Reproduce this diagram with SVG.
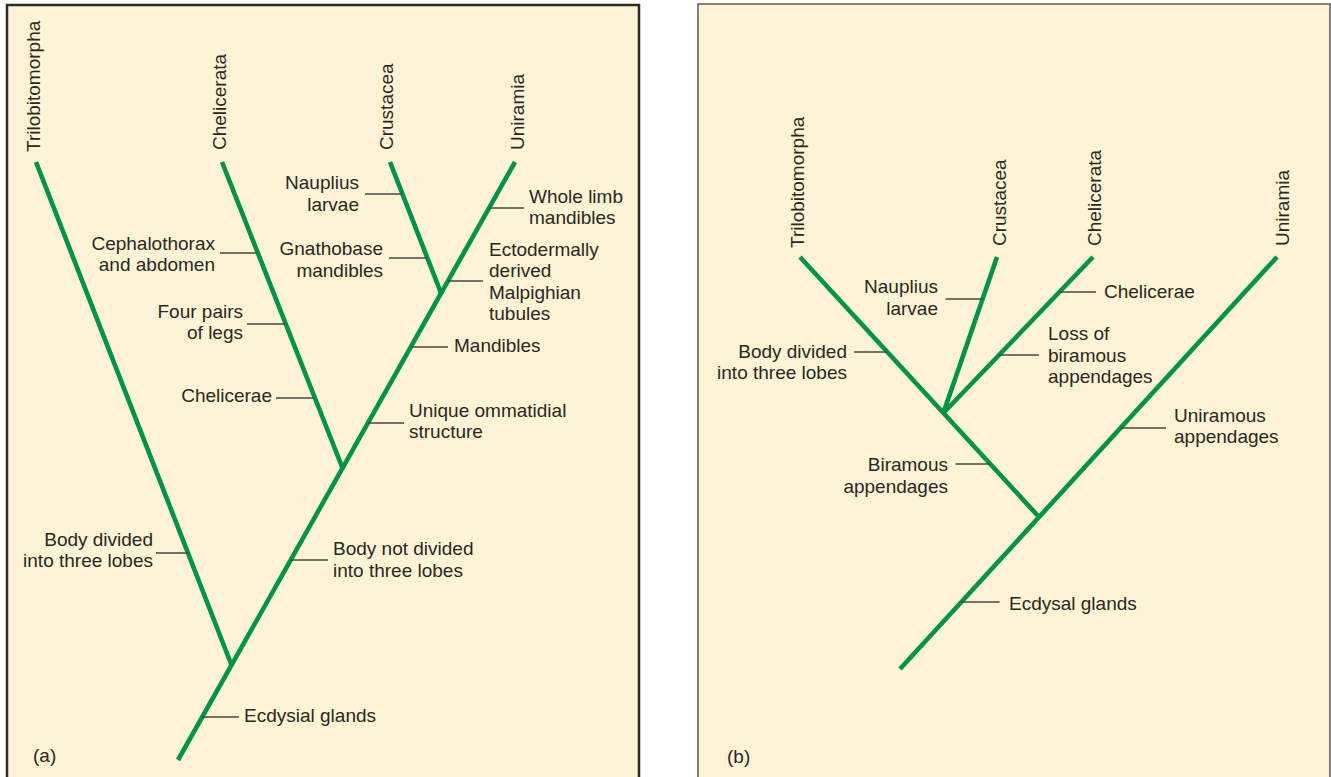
<svg xmlns="http://www.w3.org/2000/svg" width="1331" height="777" viewBox="0 0 1331 777">
  <style>
    .panel-a { fill: #fdf4d5; stroke: #2d2b2a; stroke-width: 2.5; }
    .panel-b { fill: #fdf4d5; stroke: #5e5a55; stroke-width: 1.5; }
    .branch { fill: none; stroke: #00914a; stroke-width: 4.6; stroke-linecap: butt; stroke-linejoin: miter; }
    .tick { stroke: #4a4744; stroke-width: 1.5; fill: none; }
    text { font-family: "Liberation Sans", Arial, sans-serif; font-size: 19px; fill: #2a2725; }
    .r { text-anchor: end; }
  </style>
  <rect width="1331" height="777" fill="#ffffff"/>

  <!-- Panel (a) -->
  <g id="panel-a">
    <rect class="panel-a" x="7" y="5" width="632" height="800"/>
    <text x="33" y="762">(a)</text>
  </g>

  <g id="a-connectors">
    <path class="branch" d="M178,760 L515,162"/>
    <path class="branch" d="M36,162 L231.5,665"/>
    <path class="branch" d="M222,162 L342.5,468"/>
    <path class="branch" d="M390,162 L441,293"/>
    <line class="tick" x1="365" y1="194" x2="402" y2="194"/>
    <line class="tick" x1="389" y1="258" x2="427" y2="258"/>
    <line class="tick" x1="489" y1="208" x2="524" y2="208"/>
    <line class="tick" x1="448" y1="281" x2="483" y2="281"/>
    <line class="tick" x1="411" y1="347" x2="448" y2="347"/>
    <line class="tick" x1="368" y1="423" x2="404" y2="423"/>
    <line class="tick" x1="291" y1="560" x2="328" y2="560"/>
    <line class="tick" x1="202" y1="717" x2="239" y2="717"/>
    <line class="tick" x1="220" y1="253" x2="257" y2="253"/>
    <line class="tick" x1="247" y1="324" x2="285" y2="324"/>
    <line class="tick" x1="276" y1="398" x2="314" y2="398"/>
    <line class="tick" x1="156" y1="553" x2="188" y2="553"/>
  </g>

  <g id="a-taxa">
    <text transform="rotate(-90 40 152)" x="40" y="152">Trilobitomorpha</text>
    <text transform="rotate(-90 226 150)" x="226" y="150">Chelicerata</text>
    <text transform="rotate(-90 393 150)" x="393" y="150">Crustacea</text>
    <text transform="rotate(-90 524 150)" x="524" y="150">Uniramia</text>
  </g>

  <g id="a-nauplius"><text class="r" x="359" y="189">Nauplius</text><text class="r" x="359" y="211">larvae</text></g>
  <g id="a-gnathobase"><text class="r" x="383" y="255">Gnathobase</text><text class="r" x="383" y="277">mandibles</text></g>
  <g id="a-whole-limb"><text x="529" y="203">Whole limb</text><text x="529" y="224">mandibles</text></g>
  <g id="a-malpighian"><text x="489" y="256">Ectodermally</text><text x="489" y="277">derived</text><text x="489" y="299">Malpighian</text><text x="489" y="320">tubules</text></g>
  <g id="a-mandibles"><text x="454" y="352">Mandibles</text></g>
  <g id="a-ommatidial"><text x="409" y="417">Unique ommatidial</text><text x="409" y="438">structure</text></g>
  <g id="a-cephalothorax"><text class="r" x="215" y="250">Cephalothorax</text><text class="r" x="215" y="271">and abdomen</text></g>
  <g id="a-legs"><text class="r" x="243" y="318">Four pairs</text><text class="r" x="243" y="339">of legs</text></g>
  <g id="a-chelicerae"><text class="r" x="272" y="402">Chelicerae</text></g>
  <g id="a-three-lobes"><text class="r" x="153" y="546">Body divided</text><text class="r" x="153" y="567">into three lobes</text></g>
  <g id="a-not-three-lobes"><text x="333" y="555">Body not divided</text><text x="333" y="577">into three lobes</text></g>
  <g id="a-ecdysial"><text x="244" y="722">Ecdysial glands</text></g>

  <!-- Panel (b) -->
  <g id="panel-b">
    <rect class="panel-b" x="698" y="4" width="632" height="800"/>
    <text x="727" y="763">(b)</text>
  </g>

  <g id="b-connectors">
    <path class="branch" d="M900,669 L1277,257"/>
    <path class="branch" d="M800,257 L1039,517"/>
    <path class="branch" d="M997,257 L943.4,413"/>
    <path class="branch" d="M1093,257 L943.4,413"/>
    <line class="tick" x1="945.5" y1="299" x2="982.5" y2="299"/>
    <line class="tick" x1="1059.5" y1="292" x2="1096" y2="292"/>
    <line class="tick" x1="999" y1="355" x2="1039" y2="355"/>
    <line class="tick" x1="854" y1="352" x2="887" y2="352"/>
    <line class="tick" x1="1120.5" y1="428" x2="1166" y2="428"/>
    <line class="tick" x1="955.5" y1="464" x2="990" y2="464"/>
    <line class="tick" x1="961" y1="602" x2="999.5" y2="602"/>
  </g>

  <g id="b-taxa">
    <text transform="rotate(-90 804 248)" x="804" y="248">Trilobitomorpha</text>
    <text transform="rotate(-90 1006 246)" x="1006" y="246">Crustacea</text>
    <text transform="rotate(-90 1101 246)" x="1101" y="246">Chelicerata</text>
    <text transform="rotate(-90 1289 246)" x="1289" y="246">Uniramia</text>
  </g>

  <g id="b-nauplius"><text class="r" x="938" y="293">Nauplius</text><text class="r" x="938" y="315">larvae</text></g>
  <g id="b-chelicerae"><text x="1104" y="298">Chelicerae</text></g>
  <g id="b-loss-biramous"><text x="1048" y="340">Loss of</text><text x="1048" y="362">biramous</text><text x="1048" y="383">appendages</text></g>
  <g id="b-three-lobes"><text class="r" x="847" y="358">Body divided</text><text class="r" x="847" y="379">into three lobes</text></g>
  <g id="b-uniramous"><text x="1174" y="422">Uniramous</text><text x="1174" y="443">appendages</text></g>
  <g id="b-biramous"><text class="r" x="948" y="471">Biramous</text><text class="r" x="948" y="493">appendages</text></g>
  <g id="b-ecdysal"><text x="1009" y="610">Ecdysal glands</text></g>
</svg>
